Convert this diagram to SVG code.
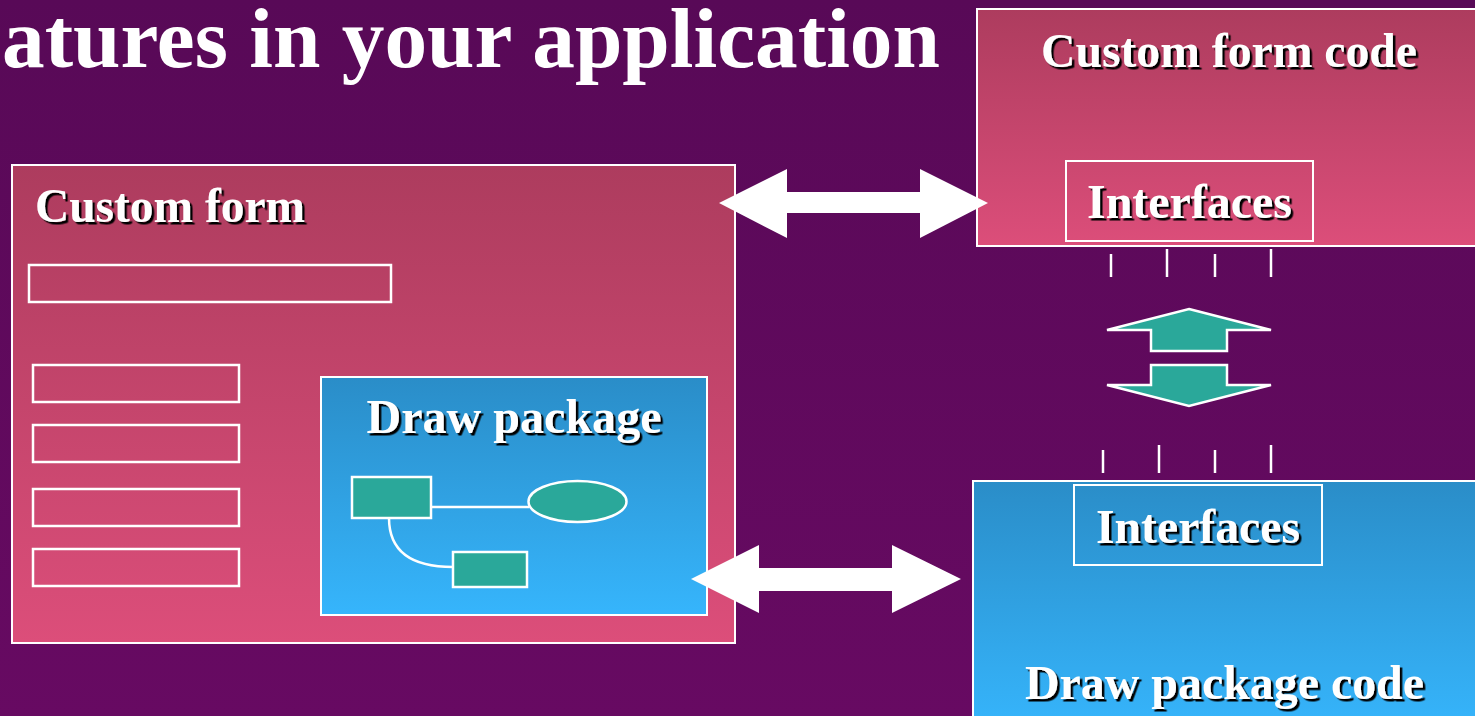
<svg xmlns="http://www.w3.org/2000/svg" width="1475" height="716" viewBox="0 0 1475 716">
  <defs>
    <linearGradient id="bg" x1="0" y1="0" x2="0" y2="1">
      <stop offset="0" stop-color="#580957"/>
      <stop offset="1" stop-color="#670a62"/>
    </linearGradient>
    <linearGradient id="pink" x1="0" y1="0" x2="0" y2="1">
      <stop offset="0" stop-color="#ad3c5e"/>
      <stop offset="1" stop-color="#dc4e7a"/>
    </linearGradient>
    <linearGradient id="blue" x1="0" y1="0" x2="0" y2="1">
      <stop offset="0" stop-color="#2a8dc8"/>
      <stop offset="1" stop-color="#36b5fc"/>
    </linearGradient>
    <filter id="shadow" x="-5%" y="-10%" width="110%" height="130%">
      <feDropShadow dx="2.5" dy="2.5" stdDeviation="0" flood-color="#000" flood-opacity="1"/>
    </filter>
  </defs>
  <style>
    .box { stroke: #fff; stroke-width: 2; }
    .field { fill: none; stroke: #fff; stroke-width: 2.5; }
    .shape { fill: #2aa89a; stroke: #fff; stroke-width: 2.5; }
    .wire { fill: none; stroke: #fff; stroke-width: 2.5; }
    .tick { stroke: #fff; stroke-width: 2.5; }
    .label { font-family: "Liberation Serif", "Times New Roman", serif; font-weight: bold; font-size: 48px; fill: #fff; filter: url(#shadow); }
    .title { font-family: "Liberation Serif", "Times New Roman", serif; font-weight: bold; font-size: 84px; fill: #fff; }
    .arrow { fill: #fff; }
    .swap { fill: #2aa89a; stroke: #fff; stroke-width: 2.5; stroke-linejoin: miter; }
  </style>

  <!-- background -->
  <rect x="0" y="0" width="1475" height="716" fill="url(#bg)"/>

  <!-- slide title -->
  <text class="title" x="2" y="67" textLength="938" lengthAdjust="spacingAndGlyphs">atures in your application</text>

  <!-- Custom form -->
  <g id="custom-form">
    <rect class="box" x="12" y="165" width="723" height="478" fill="url(#pink)"/>
    <text class="label" x="35" y="222" textLength="270" lengthAdjust="spacingAndGlyphs">Custom form</text>
    <rect class="field" x="29" y="265" width="362" height="37"/>
    <rect class="field" x="33" y="365" width="206" height="37"/>
    <rect class="field" x="33" y="425" width="206" height="37"/>
    <rect class="field" x="33" y="489" width="206" height="37"/>
    <rect class="field" x="33" y="549" width="206" height="37"/>
  </g>

  <!-- Draw package embedded in the form -->
  <g id="draw-package">
    <rect class="box" x="321" y="377" width="386" height="238" fill="url(#blue)"/>
    <text class="label" x="514" y="433" text-anchor="middle" textLength="295" lengthAdjust="spacingAndGlyphs">Draw package</text>
    <path class="wire" d="M431,507 H529"/>
    <path class="wire" d="M389,518 Q389,567 453,567"/>
    <rect class="shape" x="352" y="477" width="79" height="41"/>
    <ellipse class="shape" cx="577.5" cy="501.5" rx="49" ry="20.5"/>
    <rect class="shape" x="453" y="552" width="74" height="35"/>
  </g>

  <!-- Custom form code -->
  <g id="custom-form-code">
    <rect class="box" x="977" y="9" width="510" height="237" fill="url(#pink)"/>
    <text class="label" x="1229" y="67" text-anchor="middle" textLength="376" lengthAdjust="spacingAndGlyphs">Custom form code</text>
    <rect class="box" x="1066" y="161" width="247" height="80" fill="none"/>
    <text class="label" x="1189.5" y="218" text-anchor="middle" textLength="205" lengthAdjust="spacingAndGlyphs">Interfaces</text>
  </g>

  <!-- Draw package code -->
  <g id="draw-package-code">
    <rect class="box" x="973" y="481" width="514" height="250" fill="url(#blue)"/>
    <rect class="box" x="1074" y="485" width="248" height="80" fill="none"/>
    <text class="label" x="1198" y="543" text-anchor="middle" textLength="204" lengthAdjust="spacingAndGlyphs">Interfaces</text>
    <text class="label" x="1224.5" y="699" text-anchor="middle" textLength="399" lengthAdjust="spacingAndGlyphs">Draw package code</text>
  </g>

  <!-- connectors -->
  <g id="connectors">
    <!-- form <-> form code -->
    <polygon class="arrow" points="719,203 787,169 787,192 920,192 920,169 988,203 920,238 920,213 787,213 787,238"/>
    <!-- draw package <-> draw package code -->
    <polygon class="arrow" points="691,579 759,545 759,568 892,568 892,545 961,579 892,613 892,591 759,591 759,613"/>
    <!-- interface pins, upper -->
    <line class="tick" x1="1111" y1="254" x2="1111" y2="277"/>
    <line class="tick" x1="1167" y1="249" x2="1167" y2="277"/>
    <line class="tick" x1="1215" y1="254" x2="1215" y2="277"/>
    <line class="tick" x1="1271" y1="249" x2="1271" y2="277"/>
    <!-- interface pins, lower -->
    <line class="tick" x1="1103" y1="450" x2="1103" y2="473"/>
    <line class="tick" x1="1159" y1="445" x2="1159" y2="473"/>
    <line class="tick" x1="1215" y1="450" x2="1215" y2="473"/>
    <line class="tick" x1="1271" y1="445" x2="1271" y2="473"/>
    <!-- exchange arrows between the interfaces -->
    <polygon class="swap" points="1189,309 1271,330 1227,330 1227,351 1151,351 1151,330 1107,330"/>
    <polygon class="swap" points="1151,365 1227,365 1227,385 1271,385 1189,406 1107,385 1151,385"/>
  </g>
</svg>
